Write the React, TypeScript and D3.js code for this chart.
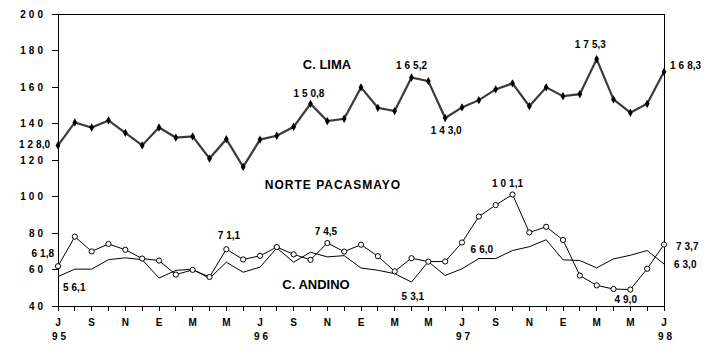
import React from "react";
import * as d3 from "d3";

// Monthly values, Jul 1995 .. Jul 1998 (37 months)
const lima = [128.0, 140.6, 137.8, 141.7, 134.9, 128.0, 137.8, 132.3, 132.9, 120.8, 131.4, 116.2, 131.2, 133.3, 138.2, 150.8, 141.3, 142.6, 159.8, 148.6, 146.8, 165.2, 163.2, 143.0, 148.8, 152.8, 158.7, 162.0, 149.5, 159.8, 155.0, 156.1, 175.3, 153.2, 145.9, 150.8, 168.3];
const pacasmayo = [61.8, 78.0, 69.9, 74.0, 70.8, 66.0, 64.9, 57.2, 59.8, 55.9, 71.1, 65.5, 67.5, 72.3, 68.3, 65.3, 74.5, 69.8, 73.6, 67.3, 59.0, 66.2, 64.3, 64.4, 74.8, 89.0, 95.3, 101.1, 80.3, 83.4, 76.2, 56.7, 51.3, 49.3, 49.0, 60.4, 73.7];
const andino = [56.1, 60.2, 60.2, 65.4, 66.4, 65.4, 55.3, 59.5, 60.2, 55.1, 64.0, 58.5, 61.3, 71.8, 64.0, 69.5, 66.9, 67.6, 60.8, 59.6, 57.7, 53.1, 64.3, 56.7, 60.4, 66.0, 66.0, 70.4, 72.5, 76.3, 65.3, 64.9, 60.9, 65.8, 67.8, 70.4, 63.0];

const monthLabels = ["J", "S", "N", "E", "M", "M", "J", "S", "N", "E", "M", "M", "J", "S", "N", "E", "M", "M", "J"];
const yearLabels = ["95", "96", "97", "98"];
const yTicks = [40, 60, 80, 100, 120, 140, 160, 180, 200];

const FONT = "'Liberation Sans', Arial, sans-serif";

function Num({ x, y, s, anchor = "middle" }: { x: number; y: number; s: string; anchor?: string }) {
  const c = s.indexOf(",");
  const cut = c >= 0 ? c - 1 : s.length - 1;
  const head = s.slice(0, cut);
  const tail = s.slice(cut);
  return (
    <text x={x} y={y} textAnchor={anchor as any} fontSize={10} fontWeight="bold" fontFamily={FONT} fill="#000">
      <tspan letterSpacing={3}>{head}</tspan>
      <tspan>{tail}</tspan>
    </text>
  );
}

export default function App() {
  const W = 720, H = 350;
  const x = d3.scaleLinear().domain([0, 36]).range([58, 664]);
  const y = d3.scaleLinear().domain([40, 200]).range([306, 14]);
  const line = d3.line<number>().x((_, i) => x(i)).y((d) => y(d));
  const idx = d3.range(37);
  const fmt = (v: number) => v.toFixed(1).replace(".", ",");
  const star = d3.symbol().type(d3.symbolDiamond).size(20)() || "";

  return (
    <svg width={W} height={H} style={{ position: "absolute", left: 0, top: 0, background: "#fff" }}>
      <rect width={W} height={H} fill="#fff" />
      {/* frame */}
      <g shapeRendering="crispEdges" stroke="#000" strokeWidth={1}>
        <line x1={x(0)} x2={x(36)} y1={y(200)} y2={y(200)} />
        <line x1={x(0)} x2={x(36)} y1={y(40)} y2={y(40)} />
        <line x1={x(0)} x2={x(0)} y1={y(200)} y2={y(40)} />
        <line x1={x(36)} x2={x(36)} y1={y(200)} y2={y(40)} />
        {yTicks.map((t) => (
          <line key={t} x1={x(0) - 6} x2={x(0)} y1={y(t)} y2={y(t)} />
        ))}
        {idx.map((i) => (
          <line key={i} x1={x(i)} x2={x(i)} y1={y(40)} y2={y(40) + 5} />
        ))}
      </g>
      {yTicks.map((t) => (
        <Num key={t} x={43} y={y(t) + 3.5} s={String(t)} anchor="end" />
      ))}
      {monthLabels.map((m, k) => (
        <text key={k} x={x(k * 2)} y={326} textAnchor="middle" fontSize={10} fontWeight="bold" fontFamily={FONT}>
          {m}
        </text>
      ))}
      {yearLabels.map((yr, k) => (
        <Num key={yr} x={x(k * 12) + 1} y={339.5} s={yr} />
      ))}

      {/* series */}
      <path d={line(andino) || ""} fill="none" stroke="#000" strokeWidth={1} />
      <path d={line(pacasmayo) || ""} fill="none" stroke="#000" strokeWidth={1} />
      {pacasmayo.map((v, i) => (
        <circle key={i} cx={x(i)} cy={y(v)} r={2.6} fill="#fff" stroke="#000" strokeWidth={1} />
      ))}
      <path d={line(lima) || ""} fill="none" stroke="#3a3a3a" strokeWidth={2.2} />
      {lima.map((v, i) => (
        <path key={i} d={star} transform={`translate(${x(i)},${y(v)})`} fill="#000" />
      ))}

      {/* series names */}
      <text x={327} y={68.5} textAnchor="middle" fontSize={13} fontWeight="bold" fontFamily={FONT}>C. LIMA</text>
      <text x={333} y={188.5} textAnchor="middle" fontSize={12} fontWeight="bold" fontFamily={FONT} letterSpacing={1}>NORTE  PACASMAYO</text>
      <text x={316} y={289} textAnchor="middle" fontSize={13} fontWeight="bold" fontFamily={FONT}>C. ANDINO</text>

      {/* value annotations */}
      <Num x={x(0) - 8} y={y(lima[0]) + 2.7} s={fmt(lima[0])} anchor="end" />
      <Num x={x(15) - 1.6} y={y(lima[15]) - 7} s={fmt(lima[15])} />
      <Num x={x(21)} y={y(lima[21]) - 9} s={fmt(lima[21])} />
      <Num x={x(23) + 1} y={y(lima[23]) + 15.6} s={fmt(lima[23])} />
      <Num x={x(32) - 6.4} y={y(lima[32]) - 10.6} s={fmt(lima[32])} />
      <Num x={x(36) + 6} y={y(lima[36]) - 3.3} s={fmt(lima[36])} anchor="start" />

      <Num x={x(0) - 4} y={y(pacasmayo[0]) - 9.5} s={fmt(pacasmayo[0])} anchor="end" />
      <Num x={x(10) + 2.6} y={y(pacasmayo[10]) - 10} s={fmt(pacasmayo[10])} />
      <Num x={x(16) - 1.4} y={y(pacasmayo[16]) - 7.6} s={fmt(pacasmayo[16])} />
      <Num x={x(27) - 5} y={y(pacasmayo[27]) - 7.8} s={fmt(pacasmayo[27])} />
      <Num x={x(34) - 4.6} y={y(pacasmayo[34]) + 13.2} s={fmt(pacasmayo[34])} />
      <Num x={x(36) + 12} y={y(pacasmayo[36]) + 6} s={fmt(pacasmayo[36])} anchor="start" />

      <Num x={x(0) + 5} y={y(andino[0]) + 14} s={fmt(andino[0])} anchor="start" />
      <Num x={x(21) + 1.3} y={y(andino[21]) + 17.7} s={fmt(andino[21])} />
      <Num x={x(25) + 3} y={y(andino[25]) - 5.8} s={fmt(andino[25])} />
      <Num x={x(36) + 10} y={y(andino[36]) + 4.4} s={fmt(andino[36])} anchor="start" />
    </svg>
  );
}
